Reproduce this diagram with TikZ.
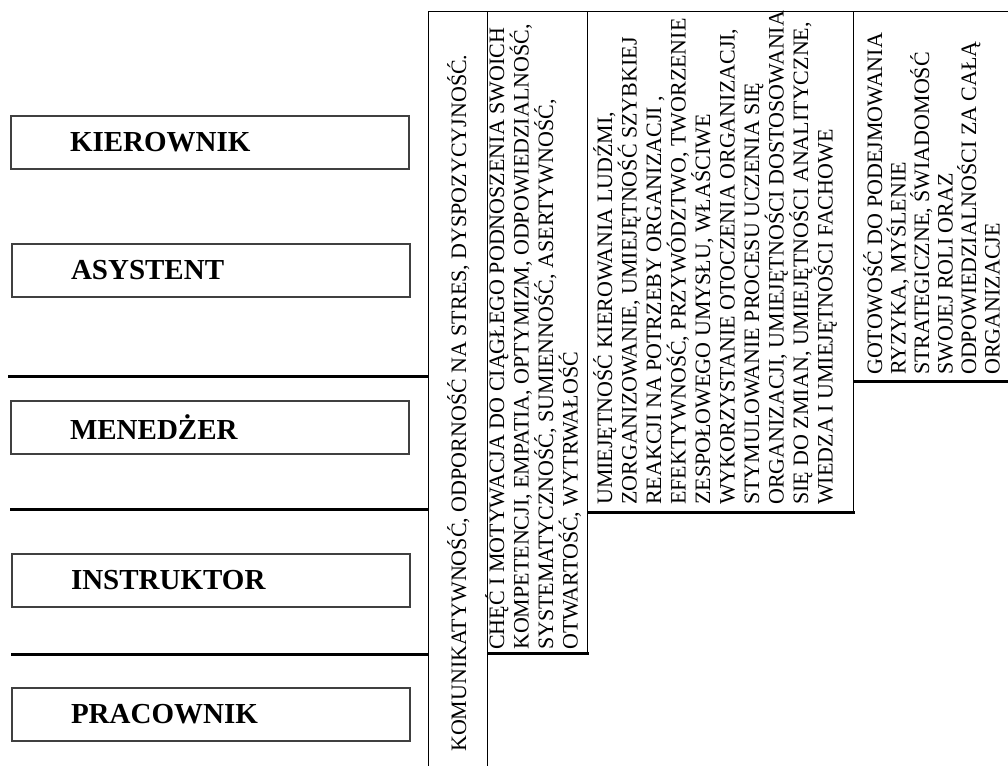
\documentclass[tikz,border=0pt]{standalone}
\usepackage{fontspec}
\setmainfont{Liberation Serif}

\begin{document}

\begin{tikzpicture}[x = 1pt, y = -1pt,
	role/.style = {draw = black!75, line width = 1.2pt, minimum width = 398pt, minimum height = 53pt,
		text width = 280pt, inner sep = 0pt, align = left, font = \bfseries\fontsize{29}{29}\selectfont},
	column/.style = {draw = black, line width = 0.9pt},
	level/.style = {line width = 3pt},
	traits/.style = {rotate = 90, anchor = base west, inner sep = 0pt, align = left,
		font = \fontsize{22}{24.5}\selectfont}]

	% Definition

	\def\T{11}		% Top edge of the columns

	\useasboundingbox (0, 0) rectangle (1008, 765);
	\clip (0, 0) rectangle (1008, 765);

	% Role boxes

	\node (kierownik)  [role] at (210, 142.5) {KIEROWNIK};
	\node (asystent)   [role] at (211, 270.5) {ASYSTENT};
	\node (menedzer)   [role] at (210, 427.5) {MENEDŻER};
	\node (instruktor) [role] at (211, 580.5) {INSTRUKTOR};
	\node (pracownik)  [role] at (211, 714.5) {PRACOWNIK};

	% Level separators

	\begin{scope}[level]

		\draw (8, 376) -- (428, 376);
		\draw (10, 509) -- (428, 509);
		\draw (11, 654) -- (428, 654);

	\end{scope}

	% Columns

	\draw [column] (428, \T) rectangle (487, 780);
	\draw [column] (487, \T) rectangle (587, 653);
	\draw [column] (587, \T) rectangle (853, 512);
	\draw [column] (853, \T) rectangle (1020, 381);

	% Column shadows

	\begin{scope}[level]

		\draw (487, 653) -- (589, 653);
		\draw (587, 512) -- (855, 512);
		\draw (853, 381) -- (1008, 381);

	\end{scope}

	% Column texts (anchored at the baseline of the last line)

	\node (komunikacja) [traits] at (466, 752)
		{KOMUNIKATYWNOŚĆ, ODPORNOŚĆ NA STRES, DYSPOZYCYJNOŚĆ.};

	\node (cechy) [traits] at (577.5, 650)
		{CHĘĆ I MOTYWACJA DO CIĄGŁEGO PODNOSZENIA SWOICH\\
		 KOMPETENCJI, EMPATIA, OPTYMIZM, ODPOWIEDZIALNOŚĆ,\\
		 SYSTEMATYCZNOŚĆ, SUMIENNOŚĆ, ASERTYWNOŚĆ,\\
		 OTWARTOŚĆ, WYTRWAŁOŚĆ};

	\node (umiejetnosci) [traits] at (832.5, 505)
		{UMIEJĘTNOŚĆ KIEROWANIA LUDŹMI,\\
		 ZORGANIZOWANIE, UMIEJĘTNOŚĆ SZYBKIEJ\\
		 REAKCJI NA POTRZEBY ORGANIZACJI ,\\
		 EFEKTYWNOŚĆ, PRZYWÓDZTWO, TWORZENIE\\
		 ZESPOŁOWEGO UMYSŁU, WŁAŚCIWE\\
		 WYKORZYSTANIE OTOCZENIA ORGANIZACJI,\\
		 STYMULOWANIE PROCESU UCZENIA SIĘ\\
		 ORGANIZACJI, UMIEJĘTNOŚCI DOSTOSOWANIA\\
		 SIĘ DO ZMIAN, UMIEJĘTNOŚCI ANALITYCZNE,\\
		 WIEDZA I UMIEJĘTNOŚCI FACHOWE};

	\node (strategia) [traits, font = \fontsize{22}{23.5}\selectfont] at (999.5, 375)
		{GOTOWOŚĆ DO PODEJMOWANIA\\
		 RYZYKA, MYŚLENIE\\
		 STRATEGICZNE, ŚWIADOMOŚĆ\\
		 SWOJEJ ROLI ORAZ\\
		 ODPOWIEDZIALNOŚCI ZA CAŁĄ\\
		 ORGANIZACJE};

\end{tikzpicture}

\end{document}
